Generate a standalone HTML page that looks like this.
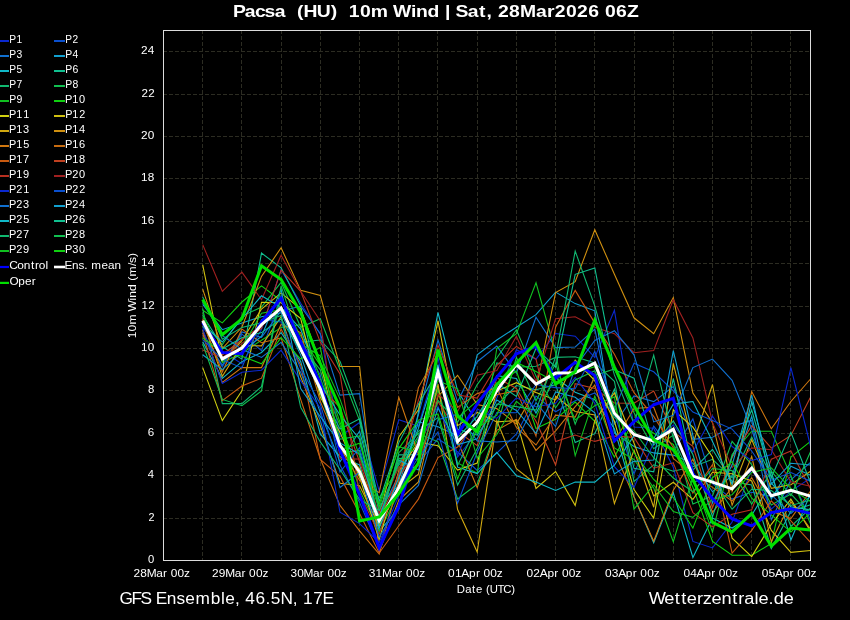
<!DOCTYPE html>
<html><head><meta charset="utf-8"><style>
html,body{margin:0;padding:0;background:#000;width:850px;height:620px;overflow:hidden}
svg{display:block;will-change:transform}
text{font-family:"Liberation Sans",sans-serif;white-space:pre}
</style></head><body>
<svg width="850" height="620" viewBox="0 0 850 620">
<rect width="850" height="620" fill="#000"/>
<text transform="translate(0 16.90) scale(1.1460 1)" x="203.25 213.64 222.49 230.78 239.65 249.14 254.00 259.15 264.90 276.41 288.55 294.64 299.50 304.44 314.15 323.47 338.34 342.84 358.56 363.11 373.08 383.32 388.28 393.28 397.45 408.12 418.05 424.51 429.59 434.52 444.24 453.70 467.70 477.26 484.15 493.87 503.58 513.29 522.93 527.87 537.58 547.04" y="0" font-size="16.90" font-weight="bold" fill="#fff">Pacsa  (HU)  10m Wind | Sat, 28Mar2026 06Z</text>
<line x1="-2" y1="41.00" x2="9" y2="41.00" stroke="#0a28d0" stroke-width="2"/>
<text transform="translate(0 42.90) scale(0.9357 1)" x="10.00 17.67" y="0" font-size="10.95" fill="#fff">P1</text>
<line x1="54" y1="41.00" x2="65" y2="41.00" stroke="#0a50d0" stroke-width="2"/>
<text transform="translate(0 42.90) scale(0.9299 1)" x="70.30 78.02" y="0" font-size="10.95" fill="#fff">P2</text>
<line x1="-2" y1="56.00" x2="9" y2="56.00" stroke="#1070d0" stroke-width="2"/>
<text transform="translate(0 57.90) scale(0.9423 1)" x="9.90 17.52" y="0" font-size="10.95" fill="#fff">P3</text>
<line x1="54" y1="56.00" x2="65" y2="56.00" stroke="#10a0d0" stroke-width="2"/>
<text transform="translate(0 57.90) scale(0.9509 1)" x="68.67 76.23" y="0" font-size="10.95" fill="#fff">P4</text>
<line x1="-2" y1="71.00" x2="9" y2="71.00" stroke="#10b8c8" stroke-width="2"/>
<text transform="translate(0 72.90) scale(0.9342 1)" x="10.02 17.70" y="0" font-size="10.95" fill="#fff">P5</text>
<line x1="54" y1="71.00" x2="65" y2="71.00" stroke="#10c090" stroke-width="2"/>
<text transform="translate(0 72.90) scale(0.9575 1)" x="68.17 75.68" y="0" font-size="10.95" fill="#fff">P6</text>
<line x1="-2" y1="86.00" x2="9" y2="86.00" stroke="#10b870" stroke-width="2"/>
<text transform="translate(0 87.90) scale(0.9430 1)" x="9.89 17.51" y="0" font-size="10.95" fill="#fff">P7</text>
<line x1="54" y1="86.00" x2="65" y2="86.00" stroke="#10c050" stroke-width="2"/>
<text transform="translate(0 87.90) scale(0.9523 1)" x="68.56 76.11" y="0" font-size="10.95" fill="#fff">P8</text>
<line x1="-2" y1="101.00" x2="9" y2="101.00" stroke="#10c020" stroke-width="2"/>
<text transform="translate(0 102.90) scale(0.9540 1)" x="9.73 17.27" y="0" font-size="10.95" fill="#fff">P9</text>
<line x1="54" y1="101.00" x2="65" y2="101.00" stroke="#10d010" stroke-width="2"/>
<text transform="translate(0 102.90) scale(1.0054 1)" x="64.75 71.93 78.68" y="0" font-size="10.95" fill="#fff">P10</text>
<line x1="-2" y1="116.00" x2="9" y2="116.00" stroke="#d0d010" stroke-width="2"/>
<text transform="translate(0 117.90) scale(0.9961 1)" x="9.17 16.41 23.23" y="0" font-size="10.95" fill="#fff">P11</text>
<line x1="54" y1="116.00" x2="65" y2="116.00" stroke="#d0c010" stroke-width="2"/>
<text transform="translate(0 117.90) scale(0.9923 1)" x="65.65 72.92 79.76" y="0" font-size="10.95" fill="#fff">P12</text>
<line x1="-2" y1="131.00" x2="9" y2="131.00" stroke="#d0a810" stroke-width="2"/>
<text transform="translate(0 132.90) scale(1.0003 1)" x="9.11 16.33 23.12" y="0" font-size="10.95" fill="#fff">P13</text>
<line x1="54" y1="131.00" x2="65" y2="131.00" stroke="#d09010" stroke-width="2"/>
<text transform="translate(0 132.90) scale(1.0055 1)" x="64.74 71.92 78.67" y="0" font-size="10.95" fill="#fff">P14</text>
<line x1="-2" y1="146.00" x2="9" y2="146.00" stroke="#d07810" stroke-width="2"/>
<text transform="translate(0 147.90) scale(0.9948 1)" x="9.18 16.44 23.26" y="0" font-size="10.95" fill="#fff">P15</text>
<line x1="54" y1="146.00" x2="65" y2="146.00" stroke="#c86c10" stroke-width="2"/>
<text transform="translate(0 147.90) scale(1.0104 1)" x="64.41 71.56 78.28" y="0" font-size="10.95" fill="#fff">P16</text>
<line x1="-2" y1="161.00" x2="9" y2="161.00" stroke="#c85a10" stroke-width="2"/>
<text transform="translate(0 162.90) scale(1.0010 1)" x="9.11 16.32 23.10" y="0" font-size="10.95" fill="#fff">P17</text>
<line x1="54" y1="161.00" x2="65" y2="161.00" stroke="#c04020" stroke-width="2"/>
<text transform="translate(0 162.90) scale(1.0069 1)" x="64.64 71.82 78.56" y="0" font-size="10.95" fill="#fff">P18</text>
<line x1="-2" y1="176.00" x2="9" y2="176.00" stroke="#b83020" stroke-width="2"/>
<text transform="translate(0 177.90) scale(1.0082 1)" x="9.01 16.18 22.91" y="0" font-size="10.95" fill="#fff">P19</text>
<line x1="54" y1="176.00" x2="65" y2="176.00" stroke="#a02020" stroke-width="2"/>
<text transform="translate(0 177.90) scale(1.0054 1)" x="64.75 71.93 78.68" y="0" font-size="10.95" fill="#fff">P20</text>
<line x1="-2" y1="191.00" x2="9" y2="191.00" stroke="#0a28d0" stroke-width="2"/>
<text transform="translate(0 192.90) scale(0.9961 1)" x="9.17 16.41 23.23" y="0" font-size="10.95" fill="#fff">P21</text>
<line x1="54" y1="191.00" x2="65" y2="191.00" stroke="#0a50d0" stroke-width="2"/>
<text transform="translate(0 192.90) scale(0.9923 1)" x="65.65 72.92 79.76" y="0" font-size="10.95" fill="#fff">P22</text>
<line x1="-2" y1="206.00" x2="9" y2="206.00" stroke="#1070d0" stroke-width="2"/>
<text transform="translate(0 207.90) scale(1.0003 1)" x="9.11 16.33 23.12" y="0" font-size="10.95" fill="#fff">P23</text>
<line x1="54" y1="206.00" x2="65" y2="206.00" stroke="#10a0d0" stroke-width="2"/>
<text transform="translate(0 207.90) scale(1.0055 1)" x="64.74 71.92 78.67" y="0" font-size="10.95" fill="#fff">P24</text>
<line x1="-2" y1="221.00" x2="9" y2="221.00" stroke="#10b8c8" stroke-width="2"/>
<text transform="translate(0 222.90) scale(0.9948 1)" x="9.18 16.44 23.26" y="0" font-size="10.95" fill="#fff">P25</text>
<line x1="54" y1="221.00" x2="65" y2="221.00" stroke="#10c090" stroke-width="2"/>
<text transform="translate(0 222.90) scale(1.0104 1)" x="64.41 71.56 78.28" y="0" font-size="10.95" fill="#fff">P26</text>
<line x1="-2" y1="236.00" x2="9" y2="236.00" stroke="#10b870" stroke-width="2"/>
<text transform="translate(0 237.90) scale(1.0010 1)" x="9.11 16.32 23.10" y="0" font-size="10.95" fill="#fff">P27</text>
<line x1="54" y1="236.00" x2="65" y2="236.00" stroke="#10c050" stroke-width="2"/>
<text transform="translate(0 237.90) scale(1.0069 1)" x="64.64 71.82 78.56" y="0" font-size="10.95" fill="#fff">P28</text>
<line x1="-2" y1="251.00" x2="9" y2="251.00" stroke="#10c020" stroke-width="2"/>
<text transform="translate(0 252.90) scale(1.0082 1)" x="9.01 16.18 22.91" y="0" font-size="10.95" fill="#fff">P29</text>
<line x1="54" y1="251.00" x2="65" y2="251.00" stroke="#10d010" stroke-width="2"/>
<text transform="translate(0 252.90) scale(1.0054 1)" x="64.75 71.93 78.68" y="0" font-size="10.95" fill="#fff">P30</text>
<line x1="-2" y1="267.00" x2="9" y2="267.00" stroke="#0000ff" stroke-width="2.2"/>
<text transform="translate(0 268.90) scale(1.0870 1)" x="8.49 15.83 21.94 28.50 32.14 35.72 41.92" y="0" font-size="10.95" fill="#fff">Control</text>
<line x1="54" y1="267.00" x2="65" y2="267.00" stroke="#ffffff" stroke-width="2.6"/>
<text transform="translate(0 268.90) scale(1.0674 1)" x="60.55 67.48 73.56 78.97 82.15 85.56 95.02 101.16 107.39" y="0" font-size="10.95" fill="#fff">Ens. mean</text>
<line x1="-2" y1="282.90" x2="9" y2="282.90" stroke="#00e000" stroke-width="2.2"/>
<text transform="translate(0 284.80) scale(1.0795 1)" x="8.71 16.95 23.13 29.42" y="0" font-size="10.95" fill="#fff">Oper</text>
<path d="M163 518.5H810 M163 475.5H810 M163 433.5H810 M163 390.5H810 M163 348.5H810 M163 306.5H810 M163 263.5H810 M163 221.5H810 M163 178.5H810 M163 136.5H810 M163 94.5H810 M163 51.5H810 M202.5 30V560 M241.5 30V560 M281.5 30V560 M320.5 30V560 M359.5 30V560 M398.5 30V560 M437.5 30V560 M477.5 30V560 M516.5 30V560 M555.5 30V560 M594.5 30V560 M634.5 30V560 M673.5 30V560 M712.5 30V560 M751.5 30V560 M790.5 30V560" stroke="#2c2c22" stroke-width="1" stroke-dasharray="4 2" fill="none"/>
<text transform="translate(0 563.00) scale(1.0272 1)" x="144.07" y="0" font-size="10.95" fill="#fff">0</text>
<text transform="translate(0 521.00) scale(0.9901 1)" x="149.94" y="0" font-size="10.95" fill="#fff">2</text>
<text transform="translate(0 478.00) scale(1.0273 1)" x="143.95" y="0" font-size="10.95" fill="#fff">4</text>
<text transform="translate(0 436.00) scale(1.0631 1)" x="139.06" y="0" font-size="10.95" fill="#fff">6</text>
<text transform="translate(0 393.00) scale(1.0383 1)" x="142.51" y="0" font-size="10.95" fill="#fff">8</text>
<text transform="translate(0 351.00) scale(1.0713 1)" x="131.68 138.01" y="0" font-size="10.95" fill="#fff">10</text>
<text transform="translate(0 309.00) scale(1.0502 1)" x="134.72 141.19" y="0" font-size="10.95" fill="#fff">12</text>
<text transform="translate(0 266.00) scale(1.0708 1)" x="131.63 137.97" y="0" font-size="10.95" fill="#fff">14</text>
<text transform="translate(0 224.00) scale(1.0799 1)" x="130.57 136.85" y="0" font-size="10.95" fill="#fff">16</text>
<text transform="translate(0 181.00) scale(1.0741 1)" x="131.34 137.66" y="0" font-size="10.95" fill="#fff">18</text>
<text transform="translate(0 139.00) scale(1.0791 1)" x="130.70 136.99" y="0" font-size="10.95" fill="#fff">20</text>
<text transform="translate(0 97.00) scale(1.0586 1)" x="133.63 140.04" y="0" font-size="10.95" fill="#fff">22</text>
<text transform="translate(0 54.00) scale(1.0786 1)" x="130.67 136.96" y="0" font-size="10.95" fill="#fff">24</text>
<text transform="translate(0 576.80) scale(1.0869 1)" x="122.91 129.15 134.99 143.75 150.00 153.88 157.04 163.29 169.29" y="0" font-size="10.95" fill="#fff">28Mar 00z</text>
<text transform="translate(0 576.80) scale(1.0869 1)" x="195.06 201.31 207.15 215.91 222.16 226.04 229.20 235.44 241.45" y="0" font-size="10.95" fill="#fff">29Mar 00z</text>
<text transform="translate(0 576.80) scale(1.0834 1)" x="268.07 274.34 280.20 288.98 295.25 299.14 302.31 308.58 314.60" y="0" font-size="10.95" fill="#fff">30Mar 00z</text>
<text transform="translate(0 576.80) scale(1.0834 1)" x="340.46 346.72 352.59 361.37 367.63 371.53 374.70 380.97 386.99" y="0" font-size="10.95" fill="#fff">31Mar 00z</text>
<text transform="translate(0 576.80) scale(1.0919 1)" x="410.41 416.62 422.47 429.52 435.85 439.71 442.85 449.07 455.05" y="0" font-size="10.95" fill="#fff">01Apr 00z</text>
<text transform="translate(0 576.80) scale(1.0919 1)" x="482.23 488.44 494.29 501.34 507.67 511.53 514.67 520.89 526.87" y="0" font-size="10.95" fill="#fff">02Apr 00z</text>
<text transform="translate(0 576.80) scale(1.0919 1)" x="554.05 560.26 566.11 573.16 579.49 583.35 586.49 592.71 598.69" y="0" font-size="10.95" fill="#fff">03Apr 00z</text>
<text transform="translate(0 576.80) scale(1.0919 1)" x="625.87 632.08 637.93 644.98 651.31 655.17 658.31 664.53 670.51" y="0" font-size="10.95" fill="#fff">04Apr 00z</text>
<text transform="translate(0 576.80) scale(1.0919 1)" x="697.69 703.90 709.75 716.80 723.13 726.99 730.13 736.35 742.33" y="0" font-size="10.95" fill="#fff">05Apr 00z</text>
<text transform="translate(0 592.60) scale(1.0371 1)" x="440.52 448.55 455.24 458.90 465.22 468.56 472.20 479.72 485.24 492.97" y="0" font-size="10.95" fill="#fff">Date (UTC)</text>
<defs><clipPath id="cp"><rect x="163.5" y="30.5" width="647" height="530"/></clipPath></defs>
<g clip-path="url(#cp)" fill="none" stroke-linejoin="miter" stroke-linecap="butt">
<path d="M202.7,327.7 L222.3,351.4 L241.9,363.7 L261.5,329.6 L281.1,269.6 L300.7,303.2 L320.3,334.2 L340.0,436.5 L359.6,422.5 L379.2,490.8 L398.8,419.7 L418.4,426.2 L438.0,357.6 L457.6,457.0 L477.2,432.0 L496.8,397.9 L516.4,349.8 L536.0,359.2 L555.6,333.5 L575.2,336.2 L594.8,357.6 L614.4,310.3 L634.0,427.1 L653.7,428.3 L673.3,467.3 L692.9,541.4 L712.5,547.9 L732.1,522.1 L751.7,468.6 L771.3,509.1 L790.9,491.1 L810.5,478.1" stroke="#0a28d0" stroke-width="1.1"/>
<path d="M202.7,332.4 L222.3,366.9 L241.9,334.2 L261.5,350.6 L281.1,298.0 L300.7,339.5 L320.3,375.1 L340.0,465.1 L359.6,502.5 L379.2,548.1 L398.8,482.8 L418.4,463.2 L438.0,438.7 L457.6,451.9 L477.2,470.4 L496.8,453.2 L516.4,434.0 L536.0,396.0 L555.6,411.8 L575.2,400.7 L594.8,393.0 L614.4,413.4 L634.0,473.9 L653.7,426.2 L673.3,451.4 L692.9,418.9 L712.5,483.6 L732.1,499.1 L751.7,492.2 L771.3,496.4 L790.9,476.2 L810.5,520.2" stroke="#0a50d0" stroke-width="1.1"/>
<path d="M202.7,334.9 L222.3,365.2 L241.9,331.9 L261.5,337.4 L281.1,311.0 L300.7,306.1 L320.3,333.7 L340.0,395.1 L359.6,393.6 L379.2,515.0 L398.8,475.0 L418.4,415.1 L438.0,340.1 L457.6,401.8 L477.2,361.7 L496.8,346.1 L516.4,373.1 L536.0,317.2 L555.6,347.6 L575.2,347.0 L594.8,329.1 L614.4,424.0 L634.0,396.0 L653.7,401.6 L673.3,386.6 L692.9,439.4 L712.5,437.3 L732.1,426.4 L751.7,420.4 L771.3,519.7 L790.9,479.9 L810.5,462.3" stroke="#1070d0" stroke-width="1.1"/>
<path d="M202.7,304.3 L222.3,329.7 L241.9,322.9 L261.5,316.7 L281.1,312.8 L300.7,355.1 L320.3,412.6 L340.0,461.9 L359.6,431.0 L379.2,506.1 L398.8,485.0 L418.4,421.8 L438.0,426.7 L457.6,435.9 L477.2,354.9 L496.8,340.0 L516.4,327.3 L536.0,314.6 L555.6,292.1 L575.2,303.6 L594.8,310.8 L614.4,433.0 L634.0,446.4 L653.7,452.9 L673.3,455.1 L692.9,463.2 L712.5,491.7 L732.1,475.7 L751.7,416.3 L771.3,499.0 L790.9,466.3 L810.5,475.2" stroke="#10a0d0" stroke-width="1.1"/>
<path d="M202.7,341.7 L222.3,378.5 L241.9,361.6 L261.5,352.5 L281.1,332.7 L300.7,361.5 L320.3,433.9 L340.0,456.7 L359.6,465.0 L379.2,530.8 L398.8,509.3 L418.4,412.1 L438.0,312.5 L457.6,390.9 L477.2,422.9 L496.8,375.7 L516.4,378.4 L536.0,413.0 L555.6,377.6 L575.2,392.3 L594.8,399.8 L614.4,428.8 L634.0,496.9 L653.7,542.9 L673.3,492.7 L692.9,557.5 L712.5,518.1 L732.1,528.0 L751.7,515.2 L771.3,482.9 L790.9,506.9 L810.5,509.9" stroke="#10b8c8" stroke-width="1.1"/>
<path d="M202.7,315.2 L222.3,346.6 L241.9,359.2 L261.5,253.1 L281.1,267.9 L300.7,306.1 L320.3,393.0 L340.0,452.9 L359.6,450.5 L379.2,523.8 L398.8,454.9 L418.4,454.6 L438.0,367.6 L457.6,429.2 L477.2,435.0 L496.8,405.3 L516.4,385.5 L536.0,389.7 L555.6,384.6 L575.2,442.5 L594.8,433.7 L614.4,389.1 L634.0,468.3 L653.7,471.9 L673.3,378.7 L692.9,470.1 L712.5,449.3 L732.1,481.5 L751.7,485.0 L771.3,548.5 L790.9,511.3 L810.5,504.8" stroke="#10c090" stroke-width="1.1"/>
<path d="M202.7,308.5 L222.3,403.6 L241.9,403.6 L261.5,386.7 L281.1,295.5 L300.7,342.1 L320.3,340.0 L340.0,361.2 L359.6,414.2 L379.2,511.6 L398.8,465.1 L418.4,436.3 L438.0,387.2 L457.6,465.4 L477.2,425.6 L496.8,363.0 L516.4,367.2 L536.0,366.2 L555.6,357.4 L575.2,356.8 L594.8,362.9 L614.4,381.4 L634.0,481.4 L653.7,464.8 L673.3,471.3 L692.9,466.7 L712.5,459.3 L732.1,477.8 L751.7,437.1 L771.3,475.9 L790.9,526.5 L810.5,508.0" stroke="#10b870" stroke-width="1.1"/>
<path d="M202.7,322.0 L222.3,344.7 L241.9,316.1 L261.5,307.1 L281.1,282.3 L300.7,327.3 L320.3,318.8 L340.0,369.7 L359.6,420.6 L379.2,527.0 L398.8,452.7 L418.4,433.5 L438.0,441.8 L457.6,499.0 L477.2,484.2 L496.8,427.5 L516.4,357.3 L536.0,400.7 L555.6,363.5 L575.2,424.2 L594.8,375.5 L614.4,368.9 L634.0,412.8 L653.7,448.8 L673.3,435.1 L692.9,504.0 L712.5,495.9 L732.1,441.3 L751.7,464.6 L771.3,505.1 L790.9,494.0 L810.5,515.3" stroke="#10c050" stroke-width="1.1"/>
<path d="M202.7,316.5 L222.3,362.6 L241.9,353.2 L261.5,340.2 L281.1,327.5 L300.7,324.7 L320.3,379.0 L340.0,425.3 L359.6,489.9 L379.2,531.8 L398.8,492.5 L418.4,446.7 L438.0,389.8 L457.6,462.9 L477.2,473.2 L496.8,348.5 L516.4,333.7 L536.0,282.8 L555.6,352.7 L575.2,455.6 L594.8,396.1 L614.4,447.9 L634.0,459.5 L653.7,487.9 L673.3,541.7 L692.9,477.1 L712.5,532.1 L732.1,454.5 L751.7,431.2 L771.3,431.2 L790.9,475.7 L810.5,524.0" stroke="#10c020" stroke-width="1.1"/>
<path d="M202.7,310.2 L222.3,322.9 L241.9,302.0 L261.5,285.9 L281.1,300.7 L300.7,336.0 L320.3,365.3 L340.0,422.1 L359.6,475.3 L379.2,497.6 L398.8,468.4 L418.4,438.7 L438.0,377.2 L457.6,417.9 L477.2,400.8 L496.8,385.4 L516.4,371.0 L536.0,428.5 L555.6,419.3 L575.2,402.1 L594.8,421.4 L614.4,457.0 L634.0,419.7 L653.7,433.3 L673.3,444.5 L692.9,487.3 L712.5,541.4 L732.1,555.2 L751.7,555.2 L771.3,543.5 L790.9,457.0 L810.5,441.4" stroke="#10d010" stroke-width="1.1"/>
<path d="M202.7,367.6 L222.3,420.6 L241.9,390.9 L261.5,302.3 L281.1,302.7 L300.7,318.6 L320.3,397.0 L340.0,432.4 L359.6,477.3 L379.2,539.5 L398.8,471.0 L418.4,442.2 L438.0,445.7 L457.6,470.1 L477.2,463.0 L496.8,391.1 L516.4,382.7 L536.0,392.6 L555.6,399.9 L575.2,360.3 L594.8,380.6 L614.4,421.3 L634.0,489.5 L653.7,518.1 L673.3,409.8 L692.9,427.1 L712.5,457.3 L732.1,538.1 L751.7,556.6 L771.3,524.3 L790.9,499.1 L810.5,531.1" stroke="#d0d010" stroke-width="1.1"/>
<path d="M202.7,264.8 L222.3,361.2 L241.9,340.7 L261.5,309.0 L281.1,292.9 L300.7,309.2 L320.3,362.1 L340.0,444.9 L359.6,468.7 L379.2,517.0 L398.8,436.9 L418.4,409.7 L438.0,320.8 L457.6,425.6 L477.2,412.5 L496.8,421.9 L516.4,420.6 L536.0,488.4 L555.6,471.5 L575.2,505.4 L594.8,420.6 L614.4,393.0 L634.0,443.0 L653.7,496.0 L673.3,482.3 L692.9,499.4 L712.5,472.2 L732.1,473.8 L751.7,480.9 L771.3,530.4 L790.9,552.4 L810.5,550.5" stroke="#d0c010" stroke-width="1.1"/>
<path d="M202.7,319.9 L222.3,376.3 L241.9,345.4 L261.5,345.9 L281.1,316.8 L300.7,376.9 L320.3,425.7 L340.0,483.3 L359.6,485.8 L379.2,526.1 L398.8,489.3 L418.4,474.3 L438.0,384.1 L457.6,509.6 L477.2,552.0 L496.8,420.6 L516.4,468.7 L536.0,484.2 L555.6,396.2 L575.2,411.5 L594.8,415.0 L614.4,503.5 L634.0,450.2 L653.7,507.2 L673.3,363.3 L692.9,443.9 L712.5,384.5 L732.1,491.1 L751.7,439.5 L771.3,488.3 L790.9,484.8 L810.5,471.3" stroke="#d0a810" stroke-width="1.1"/>
<path d="M202.7,289.1 L222.3,348.5 L241.9,327.3 L261.5,276.4 L281.1,247.8 L300.7,290.4 L320.3,295.5 L340.0,366.5 L359.6,366.5 L379.2,552.0 L398.8,500.3 L418.4,482.0 L438.0,396.5 L457.6,375.3 L477.2,404.6 L496.8,408.6 L516.4,423.9 L536.0,388.8 L555.6,292.5 L575.2,281.7 L594.8,229.8 L614.4,274.3 L634.0,317.8 L653.7,333.7 L673.3,297.6 L692.9,393.0 L712.5,422.7 L732.1,505.3 L751.7,456.3 L771.3,541.8 L790.9,501.8 L810.5,529.0" stroke="#d09010" stroke-width="1.1"/>
<path d="M202.7,330.0 L222.3,382.4 L241.9,367.6 L261.5,367.6 L281.1,324.3 L300.7,332.6 L320.3,401.4 L340.0,447.5 L359.6,480.5 L379.2,492.7 L398.8,397.3 L418.4,454.5 L438.0,375.1 L457.6,441.1 L477.2,487.6 L496.8,430.3 L516.4,419.3 L536.0,450.4 L555.6,430.9 L575.2,406.6 L594.8,385.2 L614.4,451.5 L634.0,496.9 L653.7,541.2 L673.3,490.3 L692.9,459.1 L712.5,512.4 L732.1,487.5 L751.7,391.6 L771.3,428.8 L790.9,401.5 L810.5,379.0" stroke="#d07810" stroke-width="1.1"/>
<path d="M202.7,322.6 L222.3,372.0 L241.9,329.1 L261.5,342.7 L281.1,337.9 L300.7,399.4 L320.3,458.7 L340.0,505.4 L359.6,530.8 L379.2,554.1 L398.8,481.2 L418.4,387.6 L438.0,353.0 L457.6,407.5 L477.2,393.6 L496.8,387.9 L516.4,427.5 L536.0,445.0 L555.6,415.1 L575.2,417.1 L594.8,377.1 L614.4,441.5 L634.0,408.5 L653.7,407.2 L673.3,458.5 L692.9,474.6 L712.5,487.4 L732.1,501.0 L751.7,477.8 L771.3,511.1 L790.9,518.6 L810.5,491.0" stroke="#c86c10" stroke-width="1.1"/>
<path d="M202.7,333.0 L222.3,400.6 L241.9,386.1 L261.5,378.2 L281.1,329.1 L300.7,364.9 L320.3,459.4 L340.0,476.4 L359.6,513.6 L379.2,553.0 L398.8,525.7 L418.4,499.1 L438.0,457.6 L457.6,447.0 L477.2,420.3 L496.8,394.7 L516.4,390.9 L536.0,436.0 L555.6,327.3 L575.2,290.4 L594.8,323.1 L614.4,354.2 L634.0,392.7 L653.7,416.4 L673.3,447.8 L692.9,493.2 L712.5,464.7 L732.1,553.0 L751.7,530.4 L771.3,500.8 L790.9,520.9 L810.5,542.3" stroke="#c85a10" stroke-width="1.1"/>
<path d="M202.7,318.9 L222.3,354.8 L241.9,339.7 L261.5,325.5 L281.1,305.9 L300.7,349.3 L320.3,387.7 L340.0,407.4 L359.6,461.9 L379.2,519.6 L398.8,476.8 L418.4,448.7 L438.0,401.8 L457.6,431.3 L477.2,445.6 L496.8,377.7 L516.4,388.5 L536.0,421.3 L555.6,465.0 L575.2,383.7 L594.8,388.4 L614.4,403.0 L634.0,403.2 L653.7,391.1 L673.3,432.0 L692.9,446.3 L712.5,507.8 L732.1,457.5 L751.7,425.6 L771.3,448.1 L790.9,435.4 L810.5,397.3" stroke="#c04020" stroke-width="1.1"/>
<path d="M202.7,349.9 L222.3,357.6 L241.9,343.4 L261.5,328.5 L281.1,270.1 L300.7,291.3 L320.3,342.1 L340.0,373.9 L359.6,493.8 L379.2,534.3 L398.8,472.6 L418.4,400.1 L438.0,345.2 L457.6,395.0 L477.2,398.1 L496.8,365.5 L516.4,346.4 L536.0,359.1 L555.6,441.6 L575.2,435.1 L594.8,441.4 L614.4,436.1 L634.0,437.4 L653.7,468.2 L673.3,462.8 L692.9,512.7 L712.5,526.9 L732.1,514.3 L751.7,509.8 L771.3,459.2 L790.9,450.9 L810.5,488.8" stroke="#b83020" stroke-width="1.1"/>
<path d="M202.7,244.6 L222.3,291.3 L241.9,272.2 L261.5,299.7 L281.1,255.2 L300.7,291.3 L320.3,320.9 L340.0,458.5 L359.6,459.1 L379.2,513.2 L398.8,466.8 L418.4,466.0 L438.0,394.0 L457.6,411.4 L477.2,375.2 L496.8,370.6 L516.4,336.3 L536.0,381.2 L555.6,318.8 L575.2,316.7 L594.8,327.3 L614.4,333.7 L634.0,352.7 L653.7,350.6 L673.3,299.7 L692.9,337.9 L712.5,422.7 L732.1,467.5 L751.7,447.9 L771.3,449.8 L790.9,481.7 L810.5,486.3" stroke="#a02020" stroke-width="1.1"/>
<path d="M202.7,328.9 L222.3,383.4 L241.9,372.3 L261.5,370.2 L281.1,350.1 L300.7,380.9 L320.3,408.0 L340.0,512.2 L359.6,523.6 L379.2,542.5 L398.8,495.5 L418.4,444.5 L438.0,406.5 L457.6,455.2 L477.2,409.0 L496.8,418.4 L516.4,397.8 L536.0,406.8 L555.6,403.3 L575.2,377.3 L594.8,403.1 L614.4,466.6 L634.0,487.4 L653.7,442.5 L673.3,424.8 L692.9,451.9 L712.5,416.0 L732.1,446.5 L751.7,460.6 L771.3,454.5 L790.9,367.6 L810.5,446.0" stroke="#0a28d0" stroke-width="1.1"/>
<path d="M202.7,339.7 L222.3,359.6 L241.9,367.9 L261.5,319.5 L281.1,321.9 L300.7,368.4 L320.3,403.9 L340.0,472.1 L359.6,447.6 L379.2,520.8 L398.8,487.9 L418.4,457.5 L438.0,431.9 L457.6,503.3 L477.2,452.3 L496.8,412.5 L516.4,412.8 L536.0,384.5 L555.6,387.6 L575.2,388.8 L594.8,351.5 L614.4,408.9 L634.0,363.3 L653.7,371.8 L673.3,390.9 L692.9,412.1 L712.5,420.6 L732.1,429.1 L751.7,451.0 L771.3,480.2 L790.9,472.6 L810.5,481.3" stroke="#0a50d0" stroke-width="1.1"/>
<path d="M202.7,302.1 L222.3,335.4 L241.9,349.5 L261.5,357.4 L281.1,342.4 L300.7,372.5 L320.3,420.5 L340.0,487.5 L359.6,472.2 L379.2,537.2 L398.8,504.9 L418.4,485.5 L438.0,419.6 L457.6,414.1 L477.2,440.9 L496.8,442.0 L516.4,440.5 L536.0,402.6 L555.6,426.5 L575.2,367.2 L594.8,340.4 L614.4,330.7 L634.0,354.8 L653.7,421.9 L673.3,415.3 L692.9,367.6 L712.5,359.1 L732.1,380.3 L751.7,429.1 L771.3,494.8 L790.9,513.5 L810.5,496.2" stroke="#1070d0" stroke-width="1.1"/>
<path d="M202.7,354.7 L222.3,369.6 L241.9,351.8 L261.5,336.3 L281.1,289.4 L300.7,388.6 L320.3,416.7 L340.0,442.9 L359.6,454.2 L379.2,518.1 L398.8,459.9 L418.4,470.0 L438.0,408.1 L457.6,444.8 L477.2,438.7 L496.8,400.1 L516.4,410.4 L536.0,433.3 L555.6,391.9 L575.2,397.2 L594.8,412.8 L614.4,474.0 L634.0,461.4 L653.7,460.0 L673.3,350.6 L692.9,435.4 L712.5,503.0 L732.1,465.1 L751.7,395.1 L771.3,484.2 L790.9,463.2 L810.5,465.0" stroke="#10a0d0" stroke-width="1.1"/>
<path d="M202.7,324.2 L222.3,342.0 L241.9,318.8 L261.5,295.8 L281.1,307.4 L300.7,329.1 L320.3,384.1 L340.0,415.0 L359.6,439.2 L379.2,528.4 L398.8,477.8 L418.4,428.4 L438.0,364.5 L457.6,467.2 L477.2,473.6 L496.8,452.4 L516.4,475.7 L536.0,482.1 L555.6,490.5 L575.2,482.1 L594.8,482.1 L614.4,465.1 L634.0,435.7 L653.7,438.7 L673.3,404.1 L692.9,401.5 L712.5,441.5 L732.1,484.2 L751.7,401.5 L771.3,471.5 L790.9,540.0 L810.5,493.7" stroke="#10b8c8" stroke-width="1.1"/>
<path d="M202.7,326.1 L222.3,349.0 L241.9,337.8 L261.5,332.6 L281.1,319.0 L300.7,351.1 L320.3,390.7 L340.0,429.0 L359.6,418.7 L379.2,501.5 L398.8,442.6 L418.4,404.3 L438.0,370.9 L457.6,437.7 L477.2,416.3 L496.8,383.1 L516.4,396.4 L536.0,348.2 L555.6,367.1 L575.2,274.3 L594.8,267.9 L614.4,369.7 L634.0,378.2 L653.7,445.1 L673.3,421.0 L692.9,454.5 L712.5,516.8 L732.1,456.6 L751.7,410.0 L771.3,477.8 L790.9,432.4 L810.5,482.8" stroke="#10c090" stroke-width="1.1"/>
<path d="M202.7,297.0 L222.3,339.1 L241.9,327.4 L261.5,322.8 L281.1,315.6 L300.7,407.2 L320.3,441.9 L340.0,469.5 L359.6,499.6 L379.2,510.3 L398.8,463.1 L418.4,431.4 L438.0,417.6 L457.6,485.1 L477.2,448.6 L496.8,404.0 L516.4,406.6 L536.0,410.1 L555.6,357.0 L575.2,251.0 L594.8,306.1 L614.4,374.9 L634.0,423.9 L653.7,355.1 L673.3,438.4 L692.9,481.6 L712.5,479.5 L732.1,509.2 L751.7,489.2 L771.3,490.6 L790.9,505.5 L810.5,500.2" stroke="#10b870" stroke-width="1.1"/>
<path d="M202.7,344.0 L222.3,399.4 L241.9,405.7 L261.5,390.9 L281.1,285.8 L300.7,345.6 L320.3,369.8 L340.0,439.2 L359.6,436.0 L379.2,522.6 L398.8,458.3 L418.4,459.3 L438.0,400.4 L457.6,422.4 L477.2,384.6 L496.8,358.0 L516.4,329.8 L536.0,376.1 L555.6,407.8 L575.2,380.0 L594.8,370.8 L614.4,417.4 L634.0,430.8 L653.7,457.7 L673.3,478.0 L692.9,491.7 L712.5,468.5 L732.1,470.6 L751.7,504.1 L771.3,471.0 L790.9,495.8 L810.5,451.7" stroke="#10c050" stroke-width="1.1"/>
<path d="M202.7,312.6 L222.3,360.6 L241.9,347.4 L261.5,313.3 L281.1,309.7 L300.7,343.8 L320.3,356.0 L340.0,399.1 L359.6,456.4 L379.2,507.9 L398.8,446.6 L418.4,452.3 L438.0,380.7 L457.6,388.8 L477.2,458.2 L496.8,434.5 L516.4,401.4 L536.0,417.4 L555.6,372.8 L575.2,419.9 L594.8,405.7 L614.4,396.9 L634.0,509.2 L653.7,484.8 L673.3,511.6 L692.9,517.4 L712.5,499.2 L732.1,494.7 L751.7,472.4 L771.3,467.9 L790.9,488.5 L810.5,501.6" stroke="#10c020" stroke-width="1.1"/>
<path d="M202.7,337.9 L222.3,352.4 L241.9,356.3 L261.5,363.8 L281.1,337.6 L300.7,359.0 L320.3,347.3 L340.0,449.7 L359.6,443.2 L379.2,504.3 L398.8,448.6 L418.4,420.1 L438.0,413.9 L457.6,478.9 L477.2,427.8 L496.8,415.2 L516.4,362.5 L536.0,371.6 L555.6,381.9 L575.2,372.7 L594.8,366.7 L614.4,406.7 L634.0,452.8 L653.7,479.5 L673.3,497.5 L692.9,528.1 L712.5,477.7 L732.1,461.6 L751.7,498.2 L771.3,514.9 L790.9,532.1 L810.5,512.4" stroke="#10d010" stroke-width="1.1"/>
<path d="M202.7,322.6 L222.3,352.5 L241.9,353.8 L261.5,322.0 L281.1,298.3 L300.7,342.1 L320.3,383.5 L340.0,450.3 L359.6,494.8 L379.2,547.8 L398.8,506.4 L418.4,443.9 L438.0,372.9 L457.6,434.4 L477.2,404.0 L496.8,377.3 L516.4,353.8 L536.0,346.4 L555.6,378.2 L575.2,362.3 L594.8,375.6 L614.4,440.9 L634.0,421.6 L653.7,404.7 L673.3,398.3 L692.9,473.6 L712.5,498.6 L732.1,518.9 L751.7,525.9 L771.3,512.6 L790.9,508.8 L810.5,513.4" stroke="#0000ff" stroke-width="3"/>
<path d="M202.7,320.7 L222.3,358.9 L241.9,348.1 L261.5,324.5 L281.1,308.2 L300.7,349.1 L320.3,388.8 L340.0,445.4 L359.6,471.9 L379.2,520.6 L398.8,487.4 L418.4,445.0 L438.0,371.8 L457.6,441.6 L477.2,422.3 L496.8,390.7 L516.4,364.4 L536.0,384.1 L555.6,373.1 L575.2,372.7 L594.8,363.1 L614.4,413.2 L634.0,434.4 L653.7,441.1 L673.3,429.1 L692.9,476.1 L712.5,482.1 L732.1,488.8 L751.7,468.1 L771.3,495.8 L790.9,490.3 L810.5,496.1" stroke="#ffffff" stroke-width="3"/>
<path d="M202.7,299.5 L222.3,334.7 L241.9,318.8 L261.5,265.8 L281.1,279.6 L300.7,312.5 L320.3,363.3 L340.0,407.9 L359.6,520.9 L379.2,517.0 L398.8,493.7 L418.4,463.0 L438.0,349.6 L457.6,416.1 L477.2,431.8 L496.8,384.8 L516.4,363.3 L536.0,342.6 L555.6,384.1 L575.2,371.8 L594.8,320.1 L614.4,367.2 L634.0,405.7 L653.7,439.9 L673.3,449.6 L692.9,479.7 L712.5,522.3 L732.1,531.9 L751.7,513.4 L771.3,546.1 L790.9,528.1 L810.5,530.0" stroke="#00e000" stroke-width="3"/>
</g>
<text transform="translate(0 603.80) scale(1.0531 1)" x="113.36 124.99 133.45 143.88 147.90 158.42 167.66 175.83 185.63 200.12 209.79 213.84 223.21 228.04 233.00 242.67 252.20 257.16 266.32 278.06 282.89 287.85 297.52 306.24" y="0" font-size="16.40" fill="#fff">GFS Ensemble, 46.5N, 17E</text>
<text transform="translate(0 603.80) scale(1.1095 1)" x="584.81 598.71 608.26 613.91 618.89 628.12 633.50 641.26 650.27 659.95 665.29 670.84 680.00 683.70 692.71 697.30 706.31" y="0" font-size="16.40" fill="#fff">Wetterzentrale.de</text>
<rect x="163.5" y="30.5" width="647.0" height="530.0" fill="none" stroke="#dcdcdc" stroke-width="1"/>
<text transform="translate(136.20 295.50) rotate(-90) scale(1.1004 1)" x="-38.90 -32.73 -26.44 -17.14 -14.45 -4.57 -1.98 4.17 10.32 13.45 17.32 26.72 29.66 34.99" y="0" font-size="10.95" fill="#fff">10m Wind (m/s)</text>
</svg>
</body></html>
